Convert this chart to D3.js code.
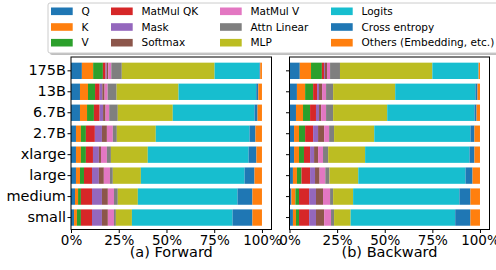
<!DOCTYPE html>
<html><head><meta charset="utf-8">
<script src="https://cdn.jsdelivr.net/npm/d3@7"></script>
<style>html,body{margin:0;padding:0;background:#fff;}svg{display:block;font-family:"DejaVu Sans",sans-serif;}</style>
</head><body><svg id="c" width="496" height="270"></svg>
<script>
const categories = ["175B","13B","6.7B","2.7B","xlarge","large","medium","small"];
const seriesNames = ["Q","K","V","MatMul QK","Mask","Softmax","MatMul V","Attn Linear","MLP","Logits","Cross entropy","Others (Embedding, etc.)"];
const seriesColors = ["#1f77b4","#ff7f0e","#2ca02c","#d62728","#9467bd","#8c564b","#e377c2","#7f7f7f","#bcbd22","#17becf","#1f77b4","#ff7f0e"];
const xTicks = [0,25,50,75,100];
const panelTitles = ["(a) Forward","(b) Backward"];

// Forward pass share (%) per series, categories in order above
const fwdQ       = [5.7, 4.7, 4.7, 2.6, 2.6, 2.6, 2.1, 1.6];
const fwdK       = [5.9, 4.2, 3.7, 2.6, 2.6, 2.1, 1.6, 1.5];
const fwdV       = [5.1, 3.7, 3.6, 2.6, 2.6, 2.1, 1.5, 2.1];
const fwdQK      = [1.4, 2.4, 3.0, 4.7, 3.7, 4.2, 5.8, 5.8];
const fwdMask    = [0.6, 1.4, 1.8, 3.7, 3.1, 3.6, 5.2, 5.2];
const fwdSoftmax = [0.8, 1.2, 1.3, 2.6, 1.1, 2.6, 3.1, 3.1];
const fwdMatV    = [1.6, 1.6, 1.9, 3.1, 3.1, 3.2, 3.2, 3.2];
const fwdAttnLin = [5.5, 4.7, 4.5, 2.1, 2.1, 1.5, 2.0, 1.0];
const fwdMLP     = [48.6, 32.4, 28.8, 20.4, 19.3, 14.7, 10.5, 8.4];
const fwdLogits  = [23.5, 40.7, 42.8, 49.1, 52.8, 54.3, 52.2, 52.7];
const fwdCE      = [0.4, 1.1, 1.6, 3.1, 4.1, 5.2, 7.8, 10.4];
const fwdOthers  = [0.9, 1.9, 2.3, 3.4, 2.9, 3.9, 5.0, 5.0];

// Backward pass share (%)
const bwdQ       = [5.4, 3.9, 3.4, 2.4, 2.4, 1.8, 1.0, 1.8];
const bwdK       = [5.9, 4.3, 3.7, 2.6, 2.6, 2.1, 2.1, 1.6];
const bwdV       = [5.7, 4.2, 3.7, 3.2, 2.6, 2.4, 1.9, 1.6];
const bwdQK      = [1.1, 2.1, 3.1, 4.2, 3.2, 4.5, 5.3, 5.3];
const bwdMask    = [0.5, 1.0, 1.6, 2.6, 2.1, 2.6, 3.6, 3.6];
const bwdSoftmax = [1.1, 1.6, 1.1, 3.2, 2.1, 2.4, 3.7, 4.3];
const bwdMatV    = [1.6, 2.1, 2.6, 2.6, 2.6, 3.0, 3.7, 3.6];
const bwdAttnLin = [5.2, 3.7, 3.7, 2.6, 2.7, 2.2, 1.6, 1.6];
const bwdMLP     = [48.5, 32.6, 28.4, 21.1, 19.4, 15.1, 10.5, 8.7];
const bwdLogits  = [24.2, 42.1, 45.8, 50.5, 54.8, 56.3, 55.8, 54.9];
const bwdCE      = [0.1, 1.1, 1.1, 2.1, 2.6, 3.7, 5.8, 8.0];
const bwdOthers  = [0.7, 1.3, 1.8, 2.9, 2.9, 3.9, 5.0, 5.0];

const fwdSeries = [fwdQ,fwdK,fwdV,fwdQK,fwdMask,fwdSoftmax,fwdMatV,fwdAttnLin,fwdMLP,fwdLogits,fwdCE,fwdOthers];
const bwdSeries = [bwdQ,bwdK,bwdV,bwdQK,bwdMask,bwdSoftmax,bwdMatV,bwdAttnLin,bwdMLP,bwdLogits,bwdCE,bwdOthers];

const svg = d3.select("#c");
const plotTop = 57, plotBottom = 229.5;

function buildRows(seriesList){
  return categories.map((c,i)=>{
    const row = {cat:c};
    seriesNames.forEach((s,j)=>row[s]=seriesList[j][i]);
    return row;
  });
}

const y = d3.scaleBand().domain(categories).range([plotTop,plotBottom])
  .paddingInner(0.22).paddingOuter(0.225).align(0.6);

function drawPanel(seriesList, x0, x1, title, showLabels){
  const x = d3.scaleLinear().domain([0,105]).range([x0,x1]);
  const stacked = d3.stack().keys(seriesNames)(buildRows(seriesList));
  const g = svg.append("g");
  stacked.forEach((layer,j)=>{
    g.append("g").attr("fill",seriesColors[j]).selectAll("rect").data(layer).join("rect")
      .attr("x",d=>x(d[0])).attr("width",d=>Math.max(0,x(d[1])-x(d[0])))
      .attr("y",d=>y(d.data.cat)).attr("height",y.bandwidth());
  });
  g.append("rect").attr("x",x0).attr("y",plotTop).attr("width",x1-x0).attr("height",plotBottom-plotTop)
    .attr("fill","none").attr("stroke","#000").attr("stroke-width",1);
  const xa = g.append("g").attr("transform",`translate(0,${plotBottom})`)
    .call(d3.axisBottom(x).tickValues(xTicks).tickFormat(d=>d+"%").tickSize(3.5).tickPadding(2));
  xa.select(".domain").remove();
  xa.selectAll("text").attr("font-size","13.5px").attr("font-family","DejaVu Sans").attr("fill","#000");
  xa.selectAll("line").attr("stroke","#000");
  const ya = g.append("g").attr("transform",`translate(${x0},0)`)
    .call(d3.axisLeft(y).tickSize(3.5).tickPadding(1.5).tickFormat(showLabels? (d=>d) : (()=>"")));
  ya.select(".domain").remove();
  ya.selectAll("text").attr("font-size","14.5px").attr("font-family","DejaVu Sans").attr("fill","#000");
  ya.selectAll("line").attr("stroke","#000");
  g.append("text").attr("x",(x0+x1)/2).attr("y",257).attr("text-anchor","middle")
    .attr("font-size","14.5px").attr("fill","#000").text(title);
}

drawPanel(fwdSeries, 71, 271.5, panelTitles[0], true);
drawPanel(bwdSeries, 289.5, 489.5, panelTitles[1], false);

const lg = svg.append("g");
lg.append("rect").attr("x",50).attr("y",5).attr("width",460).attr("height",50).attr("rx",2)
  .attr("fill","#000").attr("opacity",0.25);
lg.append("rect").attr("x",48).attr("y",3).attr("width",460).attr("height",50).attr("rx",2)
  .attr("fill","#fff").attr("stroke","#cccccc").attr("stroke-width",1);
const colPatchX = [51,111,220,331];
const rowY = [11.3,27,42.7];
seriesNames.forEach((s,i)=>{
  const c = Math.floor(i/3), r = i%3;
  lg.append("rect").attr("x",colPatchX[c]).attr("y",rowY[r]-3.8).attr("width",21.7).attr("height",7.6)
    .attr("fill",seriesColors[i]);
  lg.append("text").attr("x",colPatchX[c]+30.5).attr("y",rowY[r]).attr("dy","0.35em")
    .attr("font-size","10.5px").attr("fill","#000").text(s);
});
</script></body></html>
